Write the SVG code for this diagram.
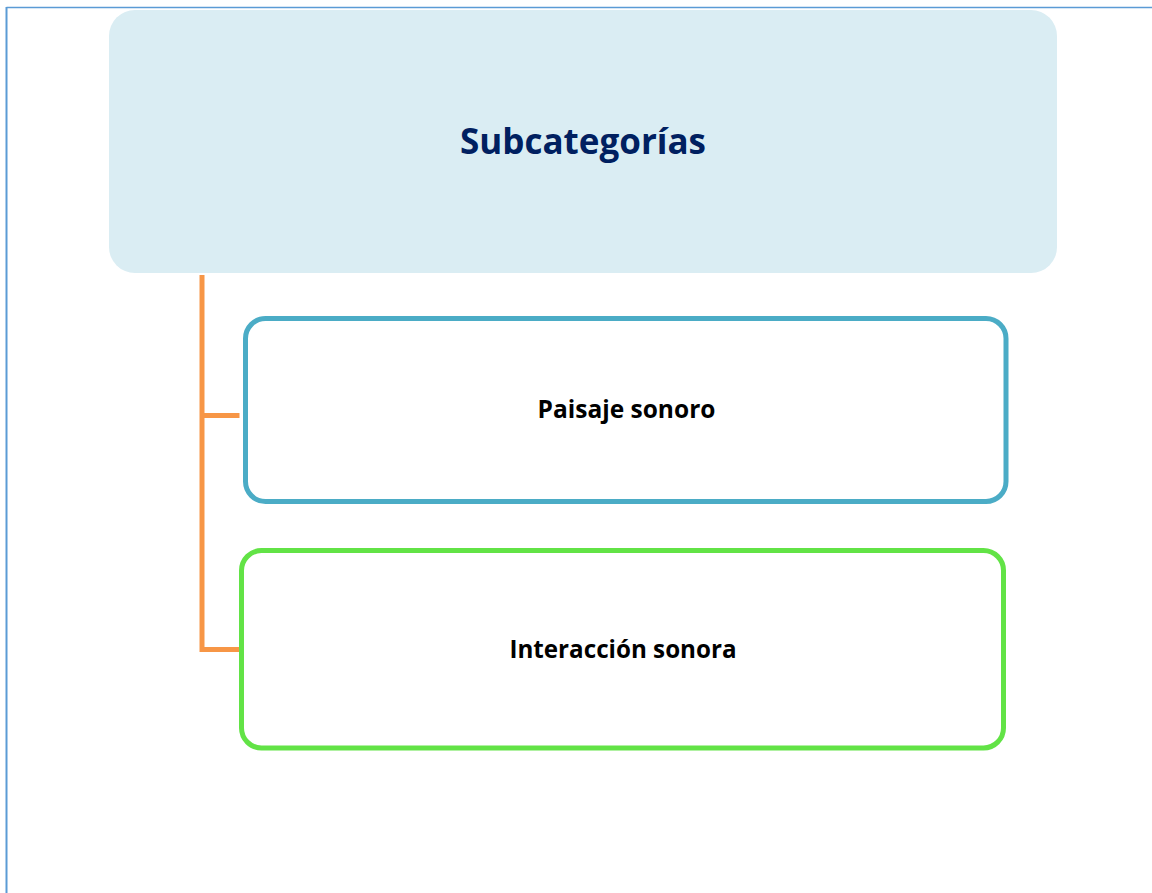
<svg xmlns="http://www.w3.org/2000/svg" width="1152" height="893" viewBox="0 0 1152 893">
<style>
.lbl{font-family:"Open Sans","Liberation Sans",sans-serif;font-weight:bold;text-anchor:middle}
.conn{stroke:#f79646;stroke-width:5;fill:none;stroke-linecap:butt}
</style>
<rect width="1152" height="893" fill="#ffffff"/>
<g id="frame" fill="none" stroke="#5b9bd5">
<line x1="6.5" y1="7.5" x2="1152" y2="7.5" stroke-width="1.5"/>
<line x1="6.5" y1="7" x2="6.5" y2="893" stroke-width="2"/>
</g>
<g id="connectors">
<path class="conn" d="M202 275 V652"/>
<path class="conn" d="M202 415.5 H239.5"/>
<path class="conn" d="M202 649.5 H240"/>
</g>
<g id="node-top">
<rect x="109" y="10" width="948" height="263" rx="26" fill="#daedf3"/>
<text class="lbl" x="583" y="154" font-size="35" fill="#002060">Subcategorías</text>
</g>
<g id="node-paisaje">
<rect x="245.5" y="318.5" width="760.5" height="183" rx="20" fill="#ffffff" stroke="#4bacc6" stroke-width="5"/>
<text class="lbl" x="626.5" y="418" font-size="24.5" fill="#000000">Paisaje sonoro</text>
</g>
<g id="node-interaccion">
<rect x="241.5" y="550.5" width="762" height="197.5" rx="20" fill="#ffffff" stroke="#62e346" stroke-width="5"/>
<text class="lbl" x="623" y="658" font-size="24.2" fill="#000000">Interacción sonora</text>
</g>
</svg>
